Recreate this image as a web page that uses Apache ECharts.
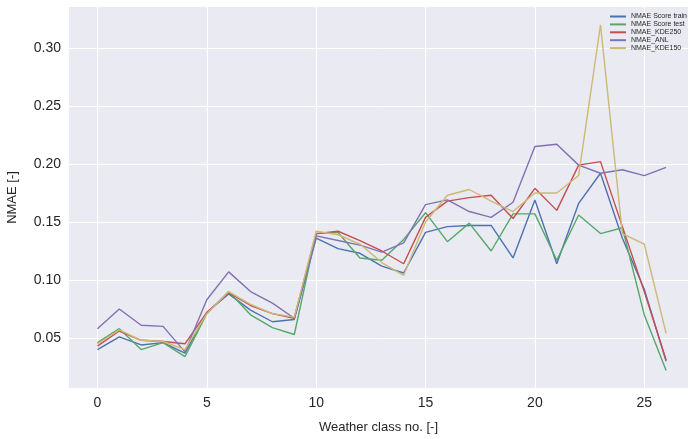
<!DOCTYPE html>
<html>
<head>
<meta charset="utf-8">
<script src="https://cdn.jsdelivr.net/npm/echarts@6/dist/echarts.min.js"></script>
<style>html,body{margin:0;padding:0;background:#fff;}#c{width:689px;height:439px;}</style>
</head>
<body>
<div id="c"></div>
<script>
const classes = [0,1,2,3,4,5,6,7,8,9,10,11,12,13,14,15,16,17,18,19,20,21,22,23,24,25,26];
const scoreTrain = [0.040,0.051,0.044,0.046,0.037,0.072,0.088,0.074,0.064,0.066,0.136,0.127,0.123,0.112,0.106,0.141,0.146,0.147,0.147,0.119,0.169,0.114,0.166,0.192,0.136,0.092,0.030];
const scoreTest = [0.046,0.058,0.040,0.046,0.034,0.071,0.090,0.070,0.059,0.053,0.140,0.141,0.119,0.117,0.135,0.158,0.133,0.149,0.125,0.157,0.157,0.117,0.156,0.140,0.145,0.070,0.022];
const kde250 = [0.043,0.056,0.048,0.047,0.045,0.072,0.089,0.078,0.071,0.067,0.140,0.142,0.134,0.125,0.114,0.154,0.168,0.171,0.173,0.153,0.179,0.160,0.199,0.202,0.146,0.090,0.031];
const anl = [0.058,0.075,0.061,0.060,0.038,0.083,0.107,0.090,0.080,0.067,0.138,0.134,0.130,0.124,0.132,0.165,0.169,0.159,0.154,0.167,0.215,0.217,0.199,0.192,0.195,0.190,0.197];
const kde150 = [0.045,0.057,0.048,0.047,0.040,0.071,0.090,0.079,0.071,0.068,0.142,0.139,0.131,0.115,0.104,0.150,0.173,0.178,0.168,0.159,0.175,0.175,0.190,0.320,0.140,0.131,0.054];
const xTicks = [0,5,10,15,20,25];
const yTicks = [0.05,0.10,0.15,0.20,0.25,0.30];

const seriesDefs = [
  {name:'NMAE Score train', data:scoreTrain, color:'#4C72B0'},
  {name:'NMAE Score test', data:scoreTest, color:'#55A868'},
  {name:'NMAE_KDE250', data:kde250, color:'#C44E52'},
  {name:'NMAE_ANL', data:anl, color:'#8172B2'},
  {name:'NMAE_KDE150', data:kde150, color:'#CCB974'}
];

const chart = echarts.init(document.getElementById('c'), null, {renderer:'canvas'});
const font = 'Liberation Sans, Arial, sans-serif';
chart.setOption({
  animation:false,
  backgroundColor:'#ffffff',
  grid:{left:69, top:7, right:1, bottom:51, show:true, backgroundColor:'#EAEAF2', borderWidth:0, outerBoundsMode:'none', containLabel:false},
  legend:{
    orient:'vertical', right:0, top:10, padding:[3,2,3,3],
    itemWidth:16, itemHeight:2, itemGap:0.9,
    icon:'rect',
    textStyle:{fontSize:7, lineHeight:7, fontFamily:font, color:'#262626', padding:[0,0,0,0]},
    data: seriesDefs.map(s=>s.name)
  },
  xAxis:{
    type:'value', min:-1.3, max:27.0,
    name:'Weather class no. [-]', nameLocation:'middle', nameGap:33,
    nameTextStyle:{fontSize:13, fontFamily:font, color:'#262626'},
    axisLine:{show:false}, axisTick:{show:false, customValues:xTicks},
    axisLabel:{customValues:xTicks, fontSize:14, fontFamily:font, color:'#262626', margin:8},
    splitLine:{show:true, lineStyle:{color:'#ffffff', width:1}}
  },
  yAxis:{
    type:'value', min:0.0069, max:0.3353,
    name:'NMAE [-]', nameLocation:'middle', nameGap:50,
    nameTextStyle:{fontSize:13, fontFamily:font, color:'#262626'},
    axisLine:{show:false}, axisTick:{show:false, customValues:yTicks},
    axisLabel:{customValues:yTicks, fontSize:14, fontFamily:font, color:'#262626', margin:8, formatter:v=>v.toFixed(2)},
    splitLine:{show:true, lineStyle:{color:'#ffffff', width:1}}
  },
  series: seriesDefs.map(s=>({
    name:s.name, type:'line', symbol:'none', showSymbol:false,
    data: classes.map((c,i)=>[c, s.data[i]]),
    lineStyle:{color:s.color, width:1.4}, itemStyle:{color:s.color}
  }))
});
</script>
</body>
</html>
